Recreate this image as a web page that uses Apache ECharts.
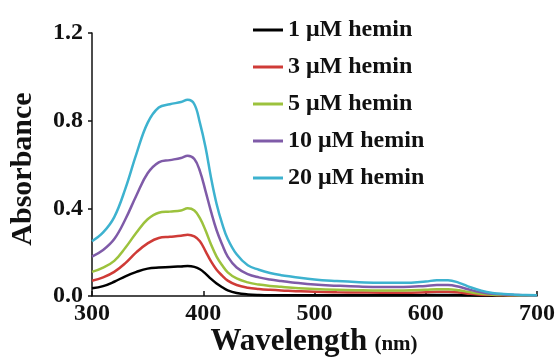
<!DOCTYPE html>
<html>
<head>
<meta charset="utf-8">
<script src="https://cdn.jsdelivr.net/npm/echarts@6/dist/echarts.min.js"></script>
<style>
  html, body { margin: 0; padding: 0; background: #fff; }
  #chart { width: 558px; height: 360px; }
</style>
</head>
<body>
<div id="chart"></div>
<script>
// UV-vis absorption spectra of hemin at several concentrations
const wavelengths = [300, 310, 320, 330, 340, 350, 360, 370, 380, 386, 392, 397, 402, 407, 412, 417, 422,
  430, 440, 450, 460, 470, 480, 500, 520, 540, 560, 580, 600, 610, 620, 630, 640, 650, 660, 670, 680, 690, 700];

const hemin1 = [0.035, 0.045, 0.065, 0.09, 0.11, 0.125, 0.13, 0.132, 0.135, 0.137, 0.133, 0.122, 0.102, 0.078, 0.057, 0.040, 0.026,
  0.014, 0.007, 0.004, 0.003, 0.003, 0.003, 0.003, 0.003, 0.003, 0.003, 0.003, 0.004, 0.005, 0.005, 0.004, 0.003, 0.002, 0.001, 0.001, 0.001, 0.001, 0.001];
const hemin3 = [0.07, 0.085, 0.11, 0.15, 0.20, 0.24, 0.265, 0.27, 0.275, 0.28, 0.272, 0.25, 0.205, 0.158, 0.12, 0.093, 0.07,
  0.05, 0.038, 0.032, 0.028, 0.025, 0.023, 0.019, 0.017, 0.016, 0.015, 0.015, 0.017, 0.019, 0.019, 0.016, 0.010, 0.006, 0.004, 0.003, 0.002, 0.002, 0.001];
const hemin5 = [0.11, 0.13, 0.16, 0.22, 0.29, 0.35, 0.38, 0.385, 0.39, 0.40, 0.39, 0.355, 0.30, 0.235, 0.18, 0.14, 0.108,
  0.08, 0.062, 0.052, 0.046, 0.042, 0.038, 0.032, 0.028, 0.026, 0.025, 0.025, 0.028, 0.031, 0.031, 0.026, 0.017, 0.010, 0.006, 0.004, 0.003, 0.002, 0.001];
const hemin10 = [0.18, 0.21, 0.26, 0.35, 0.46, 0.56, 0.61, 0.62, 0.63, 0.64, 0.625, 0.57, 0.48, 0.385, 0.30, 0.235, 0.18,
  0.13, 0.10, 0.085, 0.075, 0.068, 0.062, 0.052, 0.047, 0.043, 0.041, 0.041, 0.046, 0.050, 0.050, 0.042, 0.028, 0.017, 0.010, 0.007, 0.005, 0.003, 0.002];
const hemin20 = [0.25, 0.29, 0.36, 0.49, 0.65, 0.79, 0.86, 0.875, 0.885, 0.895, 0.875, 0.79, 0.68, 0.54, 0.42, 0.33, 0.26,
  0.19, 0.14, 0.12, 0.105, 0.095, 0.088, 0.075, 0.068, 0.063, 0.060, 0.060, 0.066, 0.072, 0.072, 0.060, 0.040, 0.024, 0.014, 0.009, 0.006, 0.004, 0.003];

const seriesNames = ['1 μM hemin', '3 μM hemin', '5 μM hemin', '10 μM hemin', '20 μM hemin'];
const seriesValues = [hemin1, hemin3, hemin5, hemin10, hemin20];
const seriesColors = ['#000000', '#cf3b37', '#9cc23d', '#7f5ba8', '#3db2cf'];

const xTicks = { min: 300, max: 700, interval: 100 };
const yTicks = { min: 0, max: 1.2, interval: 0.4 };

const serif = '"Liberation Serif", "Times New Roman", serif';

const chart = echarts.init(document.getElementById('chart'), null, { renderer: 'canvas' });

chart.setOption({
  animation: false,
  backgroundColor: '#ffffff',
  grid: { left: 92, right: 12, top: 33, bottom: 64 },
  legend: {
    orient: 'vertical',
    left: 248,
    top: 13,
    itemWidth: 30,
    itemHeight: 3,
    itemGap: 13,
    icon: 'rect',
    textStyle: { fontFamily: serif, fontWeight: 'bold', fontSize: 24, lineHeight: 24, color: '#111' },
    data: seriesNames
  },
  xAxis: {
    type: 'value',
    min: xTicks.min,
    max: xTicks.max,
    interval: xTicks.interval,
    splitLine: { show: false },
    axisLine: { lineStyle: { color: '#111', width: 1.5 } },
    axisTick: { inside: true, length: 5, lineStyle: { color: '#111', width: 1.5 } },
    axisLabel: { fontFamily: serif, fontWeight: 'bold', fontSize: 24, color: '#111', margin: 6 }
  },
  yAxis: {
    type: 'value',
    min: yTicks.min,
    max: yTicks.max,
    interval: yTicks.interval,
    splitLine: { show: false },
    axisLine: { show: true, lineStyle: { color: '#111', width: 1.5 } },
    axisTick: { show: true, length: 4, lineStyle: { color: '#111', width: 1.5 } },
    axisLabel: {
      fontFamily: serif, fontWeight: 'bold', fontSize: 24, color: '#111', margin: 9,
      formatter: v => v.toFixed(1)
    }
  },
  graphic: [
    {
      type: 'text',
      x: 23, y: 169,
      rotation: Math.PI / 2,
      style: {
        text: 'Absorbance',
        fontFamily: serif, fontWeight: 'bold', fontSize: 30,
        fill: '#111', textAlign: 'center', textVerticalAlign: 'middle'
      }
    },
    {
      type: 'text',
      x: 314, y: 342,
      style: {
        text: '{a|Wavelength} {b|(nm)}',
        textAlign: 'center', textVerticalAlign: 'middle',
        fill: '#111',
        rich: {
          a: { fontFamily: serif, fontWeight: 'bold', fontSize: 31, fill: '#111' },
          b: { fontFamily: serif, fontWeight: 'bold', fontSize: 21, fill: '#111', padding: [6, 0, 0, 4] }
        }
      }
    }
  ],
  series: seriesNames.map((name, i) => ({
    name: name,
    type: 'line',
    smooth: 0.4,
    showSymbol: false,
    color: seriesColors[i],
    lineStyle: { width: 2.5, color: seriesColors[i] },
    data: wavelengths.map((w, j) => [w, seriesValues[i][j]])
  }))
});
</script>
</body>
</html>
